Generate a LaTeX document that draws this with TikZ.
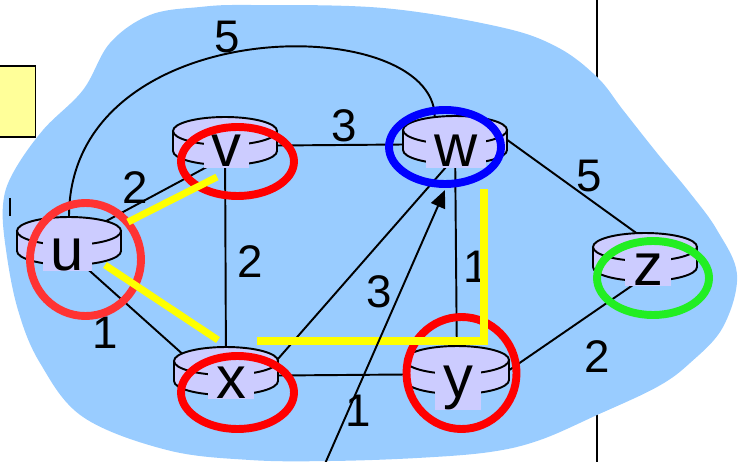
\documentclass[tikz,border=0pt]{standalone}
\usepackage{fontspec}
\setmainfont{Liberation Sans}
\usetikzlibrary{arrows.meta,positioning,shapes.geometric,calc}
\definecolor{Cloud}{HTML}{99CCFF}
\definecolor{Lilac}{HTML}{CCCCFF}
\definecolor{Pale}{HTML}{FFFF99}
\definecolor{Mark}{HTML}{FFFF00}
\definecolor{Hot}{HTML}{FF0000}
\definecolor{Warm}{HTML}{FF3333}
\definecolor{Deep}{HTML}{0000FF}
\definecolor{Lime}{HTML}{22EE22}

\begin{document}
\begin{tikzpicture}[x=0.02cm,y=-0.02cm,
  hub/.style={ellipse,minimum width=2.08cm,minimum height=0.96cm,inner sep=0pt},
  rim/.style={draw=black,line width=1.1pt,fill=Lilac},
  tag/.style={fill=Lilac,inner xsep=0.16cm,inner ysep=0.5pt,anchor=base,font=\fontsize{34}{34}\selectfont},
  cost/.style={font=\fontsize{26}{26}\selectfont,inner sep=0pt},
  link/.style={draw=black,line width=1.1pt},
  halo/.style={line width=4.5pt},
  sptree/.style={draw=Mark,line width=4pt}
]
\useasboundingbox (0,0) rectangle (742,462);
\draw[line width=1pt] (597,0) -- (597,462);
\node[draw,fill=Pale,line width=1pt,minimum width=0.9cm,minimum height=1.42cm,inner sep=0pt] (memo) at (13,101.5) {};
\fill[Cloud] plot[smooth cycle,tension=0.6] coordinates {
  (150,15) (200,7) (250,5) (383,8) (500,27) (557,47) (597,77) (623,110)
  (657,153) (690,193) (717,230) (737,275) (723,327) (690,363) (657,387)
  (597,415) (540,440) (490,452) (417,458) (330,461) (250,460) (167,450)
  (83,417) (40,363) (18,310) (6,250) (3,205) (13,173) (43,130) (83,90) (110,43)};
\draw[line width=1.3pt] (10,198) -- (10,216);

% routers
\node[hub] (u) at (69,241) {};
\node[hub] (v) at (225,141) {};
\node[hub] (w) at (455,140) {};
\node[hub] (x) at (226,371) {};
\node[hub] (y) at (457,370) {};
\node[hub] (z) at (645,257) {};

\foreach \a/\b in {u/v.240,u.-60/x.160,v.-5/w.185,v/x,w.255/x.10,w/y,w.east/z.110,x.-5/y.185,y.east/z.255} {
  \draw[link] (\a) -- (\b);
}
\draw[link] (u.north) .. controls (69,10) and (435,10) .. (w.132);

\foreach \r in {u,v,w,x,y,z} {
  \draw[rim] ($(\r)+(-52,-10)$) -- ++(0,20) arc[start angle=180,end angle=0,x radius=52,y radius=14] -- ++(0,-20);
  \draw[rim] ($(\r)+(0,-10)$) ellipse[x radius=52,y radius=14];
}

\node[tag] (lu) at (67.5,270) {u};
\node[tag] (lv) at (226.5,167) {v};
\node[tag] (lw) at (456,167) {w};
\node[tag] (lx) at (231,398) {x};
\node[tag] (ly) at (458,397) {y};
\node[tag] (lz) at (648,285) {z};

% link costs
\node[cost] (c1) at (227,37) {5};
\node[cost] (c2) at (135,188) {2};
\node[cost] (c3) at (344,126) {3};
\node[cost] (c4) at (589,176) {5};
\node[cost] (c5) at (250,262) {2};
\node[cost] (c6) at (105,333) {1};
\node[cost] (c7) at (379,292) {3};
\node[cost] (c8) at (476,267) {1};
\node[cost] (c9) at (358,411) {1};
\node[cost] (c10) at (597,357) {2};

\draw[halo,Warm] (85.5,259.5) ellipse[x radius=55.5,y radius=56.5];
\draw[halo,Hot] (237.5,161.5) ellipse[x radius=56.5,y radius=34.5];
\draw[halo,Deep] (445,147) ellipse[x radius=56,y radius=37];
\draw[halo,Hot] (237.5,392.5) ellipse[x radius=56.5,y radius=36.5];
\draw[halo,Hot] (461.5,373) ellipse[x radius=55,y radius=56];
\draw[halo,Lime] (653,278) ellipse[x radius=56,y radius=37];

\draw[sptree] (128,222) -- (217,177);
\draw[sptree] (105,265) -- (218,340);
\draw[sptree] (257,341) -- (484,341) -- (484,189);

\coordinate (feed) at (324,466);
\coordinate (tip) at (445,190);
\draw[link,-{Triangle[length=10pt,width=8.5pt]}] (feed) -- (tip);
\end{tikzpicture}
\end{document}
